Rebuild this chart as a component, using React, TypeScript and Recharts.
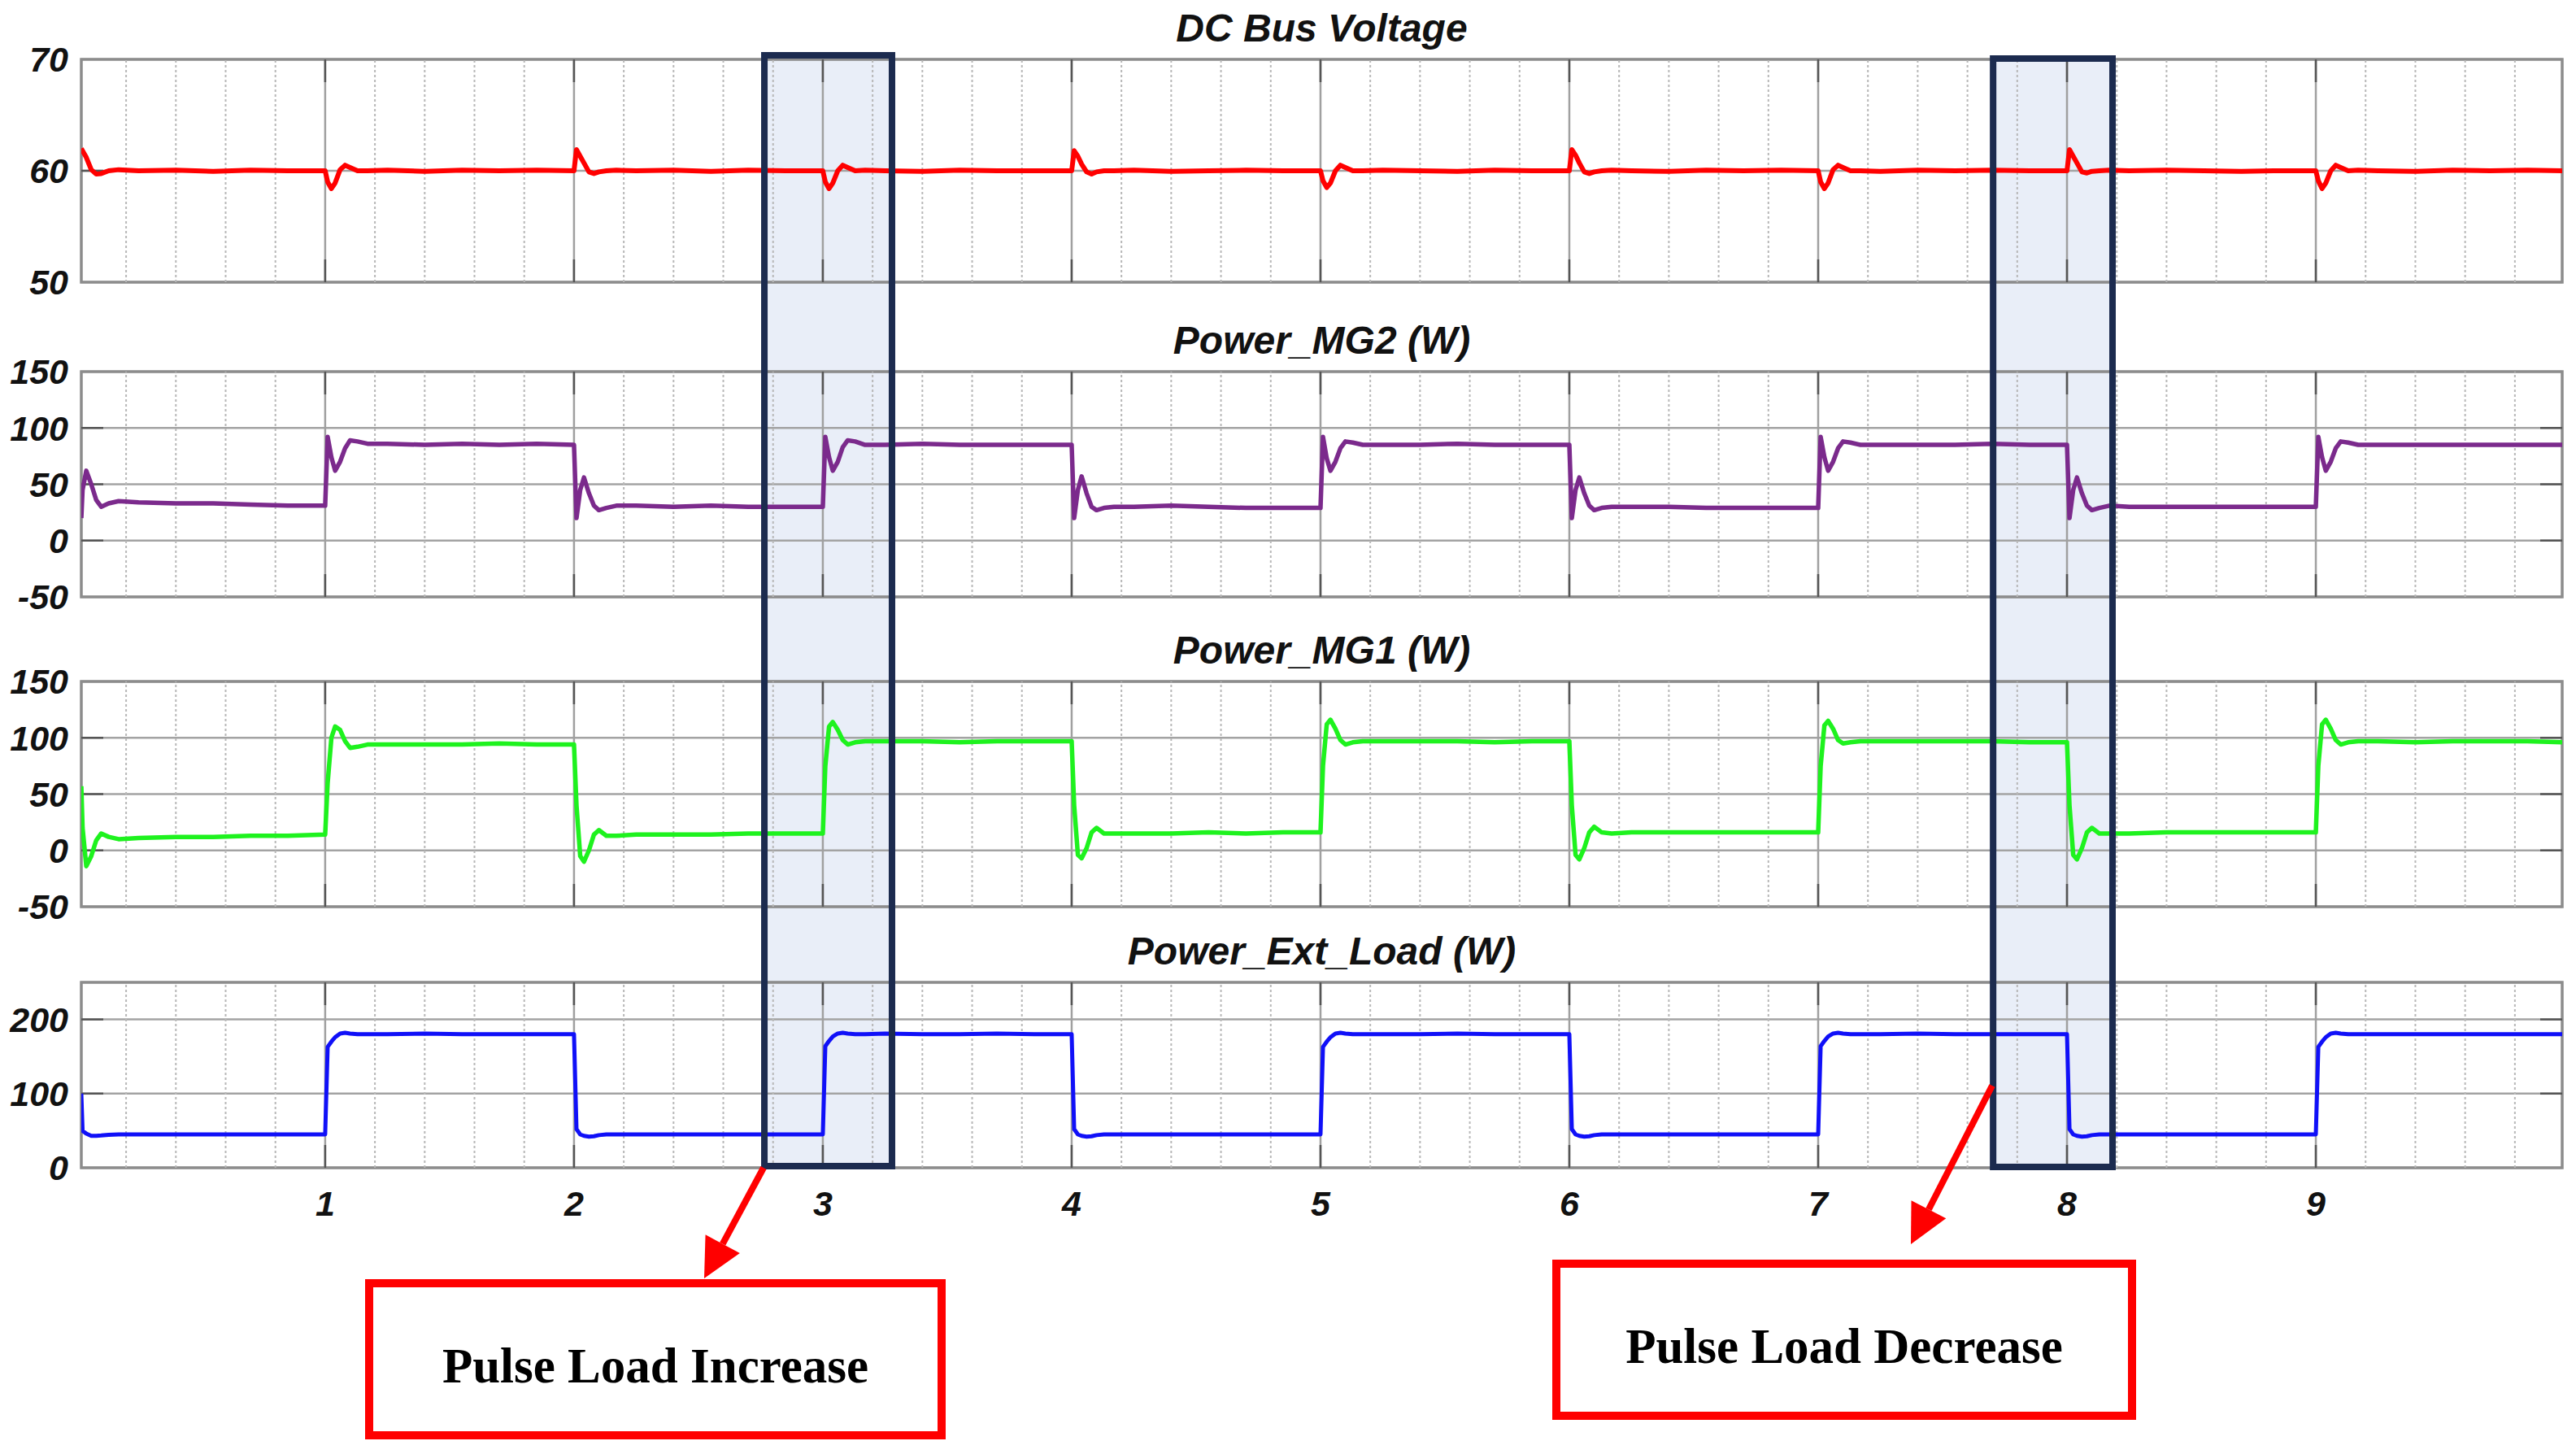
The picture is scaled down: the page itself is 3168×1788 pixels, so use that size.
import { LineChart, Line, XAxis, YAxis, CartesianGrid, ReferenceLine, ReferenceArea } from 'recharts';

// sample times (s): denser right after each load step
const time = [
  0.02, 0.025, 0.04, 0.06, 0.08, 0.1, 0.13, 0.17, 0.25, 0.4, 0.55, 0.7, 0.85,
  1, 1.01, 1.025, 1.04, 1.06, 1.08, 1.1, 1.13, 1.17, 1.25, 1.4, 1.55, 1.7, 1.85,
  2, 2.01, 2.025, 2.04, 2.06, 2.08, 2.1, 2.13, 2.17, 2.25, 2.4, 2.55, 2.7, 2.85,
  3, 3.01, 3.025, 3.04, 3.06, 3.08, 3.1, 3.13, 3.17, 3.25, 3.4, 3.55, 3.7, 3.85,
  4, 4.01, 4.025, 4.04, 4.06, 4.08, 4.1, 4.13, 4.17, 4.25, 4.4, 4.55, 4.7, 4.85,
  5, 5.01, 5.025, 5.04, 5.06, 5.08, 5.1, 5.13, 5.17, 5.25, 5.4, 5.55, 5.7, 5.85,
  6, 6.01, 6.025, 6.04, 6.06, 6.08, 6.1, 6.13, 6.17, 6.25, 6.4, 6.55, 6.7, 6.85,
  7, 7.01, 7.025, 7.04, 7.06, 7.08, 7.1, 7.13, 7.17, 7.25, 7.4, 7.55, 7.7, 7.85,
  8, 8.01, 8.025, 8.04, 8.06, 8.08, 8.1, 8.13, 8.17, 8.25, 8.4, 8.55, 8.7, 8.85,
  9, 9.01, 9.025, 9.04, 9.06, 9.08, 9.1, 9.13, 9.17, 9.25, 9.4, 9.55, 9.7, 9.85,
  9.99,
];

const dcBus = [
  62.0, 61.8, 61.2, 60.1, 59.7, 59.75, 60.0, 60.1, 60.0, 60.05, 59.95, 60.05, 60.0,
  60.0, 59.0, 58.4, 58.9, 60.1, 60.5, 60.3, 60.0, 60.0, 60.05, 59.95, 60.05, 60.0, 60.05,
  60.0, 61.9, 61.3, 60.7, 59.9, 59.75, 59.9, 60.0, 60.05, 60.0, 60.05, 59.95, 60.05, 60.0,
  60.0, 59.0, 58.4, 58.9, 60.0, 60.5, 60.3, 60.0, 60.05, 60.0, 59.95, 60.05, 60.0, 60.0,
  60.0, 61.8, 61.3, 60.6, 59.9, 59.7, 59.9, 60.0, 60.0, 60.05, 59.95, 60.0, 60.05, 60.0,
  60.0, 59.1, 58.5, 58.9, 60.0, 60.5, 60.3, 60.0, 60.0, 60.05, 60.0, 59.95, 60.05, 60.0,
  60.0, 61.9, 61.4, 60.7, 59.9, 59.75, 59.9, 60.0, 60.05, 60.0, 59.95, 60.05, 60.0, 60.05,
  60.0, 59.0, 58.4, 58.9, 60.1, 60.5, 60.3, 60.0, 60.0, 59.95, 60.05, 60.0, 60.05, 60.0,
  60.0, 61.9, 61.3, 60.7, 59.9, 59.8, 59.95, 60.0, 60.05, 60.0, 60.05, 60.0, 59.95, 60.0,
  60.0, 59.1, 58.4, 58.9, 60.0, 60.5, 60.3, 60.0, 60.05, 60.0, 59.95, 60.05, 60.0, 60.05,
  60.0,
];

const powerMG2 = [
  20, 45, 62, 50, 36, 30, 33, 35, 34, 33, 33, 32, 31,
  31, 92, 74, 62, 70, 82, 89, 88, 86, 86, 85, 86, 85, 86,
  85, 20, 45, 56, 42, 31, 27, 29, 31, 31, 30, 31, 30, 30,
  30, 92, 74, 62, 70, 83, 89, 88, 85, 85, 86, 85, 85, 85,
  85, 20, 45, 57, 42, 30, 27, 29, 30, 30, 31, 30, 29, 29,
  29, 92, 73, 62, 70, 82, 88, 87, 85, 85, 85, 86, 85, 85,
  85, 20, 45, 56, 42, 31, 27, 29, 30, 30, 30, 29, 29, 29,
  29, 92, 74, 62, 70, 82, 88, 87, 85, 85, 85, 85, 86, 85,
  85, 20, 45, 56, 42, 31, 27, 29, 31, 30, 30, 30, 30, 30,
  30, 92, 74, 62, 70, 82, 88, 87, 85, 85, 85, 85, 85, 85,
  85,
];

const powerMG1 = [
  57, 20, -14, -5, 9, 15, 12, 10, 11, 12, 12, 13, 13,
  14, 60, 100, 110, 107, 97, 91, 92, 94, 94, 94, 94, 95, 94,
  94, 40, -5, -10, 0, 14, 18, 13, 13, 14, 14, 14, 15, 15,
  15, 75, 110, 114, 107, 98, 94, 96, 97, 97, 97, 96, 97, 97,
  97, 40, -4, -7, 2, 16, 20, 15, 15, 15, 15, 16, 15, 16,
  16, 75, 112, 116, 108, 98, 94, 96, 97, 97, 97, 97, 96, 97,
  97, 40, -4, -8, 2, 16, 21, 16, 15, 16, 16, 16, 16, 16,
  16, 75, 111, 115, 108, 98, 95, 96, 97, 97, 97, 97, 97, 96,
  96, 40, -4, -8, 2, 16, 20, 15, 15, 15, 16, 16, 16, 16,
  16, 75, 112, 116, 108, 98, 94, 96, 97, 97, 96, 97, 97, 97,
  96,
];

const extLoad = [
  100, 50, 46, 43, 43, 43.5, 44.5, 45, 45, 45, 45, 45, 45,
  45, 163, 170, 176, 181, 182, 181, 180, 180, 180, 181, 180, 180, 180,
  180, 52, 45, 43, 42, 42.5, 44, 45, 45, 45, 45, 45, 45, 45,
  45, 164, 171, 177, 181, 182, 181, 180, 180, 181, 180, 180, 181, 180,
  180, 52, 45, 43, 42, 42.5, 44, 45, 45, 45, 45, 45, 45, 45,
  45, 163, 170, 176, 181, 182, 181, 180, 180, 180, 180, 181, 180, 180,
  180, 52, 45, 43, 42, 42.5, 44, 45, 45, 45, 45, 45, 45, 45,
  45, 164, 171, 177, 181, 182, 181, 180, 180, 180, 181, 180, 180, 180,
  180, 52, 45, 43, 42, 42.5, 44, 45, 45, 45, 45, 45, 45, 45,
  45, 163, 170, 176, 181, 182, 181, 180, 180, 180, 180, 180, 180, 180,
  180,
];

const majorTicks = [1, 2, 3, 4, 5, 6, 7, 8, 9];
const minorTicks = [
  0.2, 0.4, 0.6, 0.8, 1.2, 1.4, 1.6, 1.8, 2.2, 2.4, 2.6, 2.8, 3.2, 3.4, 3.6, 3.8,
  4.2, 4.4, 4.6, 4.8, 5.2, 5.4, 5.6, 5.8, 6.2, 6.4, 6.6, 6.8, 7.2, 7.4, 7.6, 7.8,
  8.2, 8.4, 8.6, 8.8, 9.2, 9.4, 9.6, 9.8,
];
const voltTicks = [50, 60, 70];
const powerTicks = [-50, 0, 50, 100, 150];
const loadTicks = [0, 100, 200];

// highlighted windows (s)
const increaseSpan = [2.752, 3.291];
const decreaseSpan = [7.69, 8.196];

const W = 3168;
const H = 1788;
const PLOT_LEFT = 100;
const PLOT_RIGHT = 3151;
const X_DOMAIN: [number, number] = [0.02, 9.99];
const xOf = (t: number) =>
  PLOT_LEFT + ((t - X_DOMAIN[0]) / (X_DOMAIN[1] - X_DOMAIN[0])) * (PLOT_RIGHT - PLOT_LEFT);

const rows = time.map((t, i) => ({
  t,
  dcBus: dcBus[i],
  mg2: powerMG2[i],
  mg1: powerMG1[i],
  load: extLoad[i],
}));

const tickFont = {
  fill: '#111',
  fontSize: 43,
  fontWeight: 700,
  fontStyle: 'italic',
  fontFamily: "'Liberation Sans', Arial, sans-serif",
};

interface PanelProps {
  dataKey: string;
  color: string;
  width: number;
  domain: [number, number];
  ticks: number[];
  top: number;
  bottom: number;
  showX?: boolean;
}

const Panel = ({ dataKey, color, width, domain, ticks, top, bottom, showX }: PanelProps) => {
  const pad = 40;
  const axisH = showX ? 70 : 0;
  const h = bottom - top;
  const ly = (28 * (domain[1] - domain[0])) / h;
  const lx = (27 * (X_DOMAIN[1] - X_DOMAIN[0])) / (PLOT_RIGHT - PLOT_LEFT);
  const inner = ticks.filter((v) => v > domain[0] && v < domain[1]);
  return (
    <div style={{ position: 'absolute', left: 0, top: top - pad }}>
      <LineChart
        width={W}
        height={h + pad + (showX ? axisH : pad)}
        data={rows}
        margin={{ top: pad, right: W - PLOT_RIGHT, bottom: showX ? 0 : pad, left: 0 }}
      >
        <CartesianGrid vertical={false} stroke="#a3a3a3" strokeWidth={2.5} />
        {minorTicks.map((v) => (
          <ReferenceLine key={'m' + v} x={v} stroke="#b8b8b8" strokeWidth={2} strokeDasharray="3 3" />
        ))}
        {majorTicks.map((v) => (
          <ReferenceLine key={'M' + v} x={v} stroke="#a0a0a0" strokeWidth={2.5} />
        ))}
        {majorTicks.map((v) => (
          <ReferenceLine
            key={'tt' + v}
            segment={[{ x: v, y: domain[1] }, { x: v, y: domain[1] - ly }]}
            stroke="#555"
            strokeWidth={2.5}
            ifOverflow="visible"
          />
        ))}
        {majorTicks.map((v) => (
          <ReferenceLine
            key={'tb' + v}
            segment={[{ x: v, y: domain[0] }, { x: v, y: domain[0] + ly }]}
            stroke="#555"
            strokeWidth={2.5}
            ifOverflow="visible"
          />
        ))}
        {inner.map((v) => (
          <ReferenceLine
            key={'yl' + v}
            segment={[{ x: X_DOMAIN[0], y: v }, { x: X_DOMAIN[0] + lx, y: v }]}
            stroke="#555"
            strokeWidth={2.5}
            ifOverflow="visible"
          />
        ))}
        {inner.map((v) => (
          <ReferenceLine
            key={'yr' + v}
            segment={[{ x: X_DOMAIN[1] - lx, y: v }, { x: X_DOMAIN[1], y: v }]}
            stroke="#555"
            strokeWidth={2.5}
            ifOverflow="visible"
          />
        ))}
        <ReferenceArea
          x1={X_DOMAIN[0]}
          x2={X_DOMAIN[1]}
          y1={domain[0]}
          y2={domain[1]}
          fill="none"
          stroke="#8c8c8c"
          strokeWidth={3.5}
          ifOverflow="visible"
        />
        <XAxis
          dataKey="t"
          type="number"
          domain={X_DOMAIN}
          ticks={majorTicks}
          interval={0}
          allowDataOverflow
          hide={!showX}
          height={axisH}
          tickLine={false}
          axisLine={false}
          tickSize={0}
          tickMargin={28}
          tick={tickFont}
        />
        <YAxis
          type="number"
          domain={domain}
          ticks={ticks}
          interval={0}
          allowDataOverflow
          width={PLOT_LEFT}
          tickLine={false}
          axisLine={false}
          tickSize={0}
          tickMargin={16}
          tick={tickFont}
        />
        <Line
          type="linear"
          dataKey={dataKey}
          stroke={color}
          strokeWidth={width}
          strokeLinejoin="round"
          dot={false}
          isAnimationActive={false}
        />
      </LineChart>
    </div>
  );
};

const panels = [
  { title: 'DC Bus Voltage', dataKey: 'dcBus', color: '#ff0000', width: 6, domain: [50, 70] as [number, number], ticks: voltTicks, top: 73, bottom: 347 },
  { title: 'Power_MG2 (W)', dataKey: 'mg2', color: '#7b2a8c', width: 5.5, domain: [-50, 150] as [number, number], ticks: powerTicks, top: 457, bottom: 734 },
  { title: 'Power_MG1 (W)', dataKey: 'mg1', color: '#1ef21e', width: 5.5, domain: [-50, 150] as [number, number], ticks: powerTicks, top: 838, bottom: 1115 },
  { title: 'Power_Ext_Load (W)', dataKey: 'load', color: '#1010f8', width: 5, domain: [0, 250] as [number, number], ticks: loadTicks, top: 1208, bottom: 1436, showX: true },
];

const NAVY = '#1c2b4f';
const RED = '#ff0000';

const arrowHead = (sx: number, sy: number, tx: number, ty: number, len: number, half: number) => {
  const dx = tx - sx;
  const dy = ty - sy;
  const d = Math.hypot(dx, dy);
  const ux = dx / d;
  const uy = dy / d;
  const bx = tx - ux * len;
  const by = ty - uy * len;
  return {
    base: [bx, by],
    points: `${tx},${ty} ${bx - uy * half},${by + ux * half} ${bx + uy * half},${by - ux * half}`,
  };
};

const Arrow = ({ sx, sy, tx, ty }: { sx: number; sy: number; tx: number; ty: number }) => {
  const a = arrowHead(sx, sy, tx, ty, 48, 24);
  return (
    <g>
      <line x1={sx} y1={sy} x2={a.base[0]} y2={a.base[1]} stroke={RED} strokeWidth={8} />
      <polygon points={a.points} fill={RED} />
    </g>
  );
};

export default function App() {
  const hl = [
    { span: increaseSpan, top: 64, bottom: 1438 },
    { span: decreaseSpan, top: 68, bottom: 1439 },
  ];
  return (
    <div style={{ position: 'absolute', left: 0, top: 0, width: W, height: H, background: '#fff', overflow: 'hidden' }}>
      <svg width={W} height={H} style={{ position: 'absolute', left: 0, top: 0 }}>
        {hl.map((r, i) => (
          <rect
            key={i}
            x={xOf(r.span[0])}
            y={r.top}
            width={xOf(r.span[1]) - xOf(r.span[0])}
            height={r.bottom - r.top}
            fill="#e9eef8"
          />
        ))}
      </svg>
      {panels.map((p) => (
        <Panel key={p.dataKey} {...p} />
      ))}
      <svg width={W} height={H} style={{ position: 'absolute', left: 0, top: 0, pointerEvents: 'none' }}>
        {panels.map((p) => (
          <text
            key={p.title}
            x={(PLOT_LEFT + PLOT_RIGHT) / 2}
            y={p.top - 22}
            textAnchor="middle"
            fontFamily="'Liberation Sans', Arial, sans-serif"
            fontWeight={700}
            fontStyle="italic"
            fontSize={48}
            fill="#111"
          >
            {p.title}
          </text>
        ))}
        {hl.map((r, i) => (
          <rect
            key={i}
            x={xOf(r.span[0]) + 4}
            y={r.top + 4}
            width={xOf(r.span[1]) - xOf(r.span[0]) - 8}
            height={r.bottom - r.top - 8}
            fill="none"
            stroke={NAVY}
            strokeWidth={8}
          />
        ))}
        <Arrow sx={939} sy={1436} tx={866} ty={1572} />
        <Arrow sx={2450} sy={1335} tx={2350} ty={1530} />
        <rect x={454} y={1578} width={704} height={187} fill="#fff" stroke={RED} strokeWidth={10} />
        <rect x={1914} y={1554} width={708} height={187} fill="#fff" stroke={RED} strokeWidth={10} />
        <text x={806} y={1700} textAnchor="middle" fontFamily="'Liberation Serif', 'Times New Roman', serif" fontWeight={700} fontSize={61} fill="#000">
          Pulse Load Increase
        </text>
        <text x={2268} y={1676} textAnchor="middle" fontFamily="'Liberation Serif', 'Times New Roman', serif" fontWeight={700} fontSize={61} fill="#000">
          Pulse Load Decrease
        </text>
      </svg>
    </div>
  );
}
